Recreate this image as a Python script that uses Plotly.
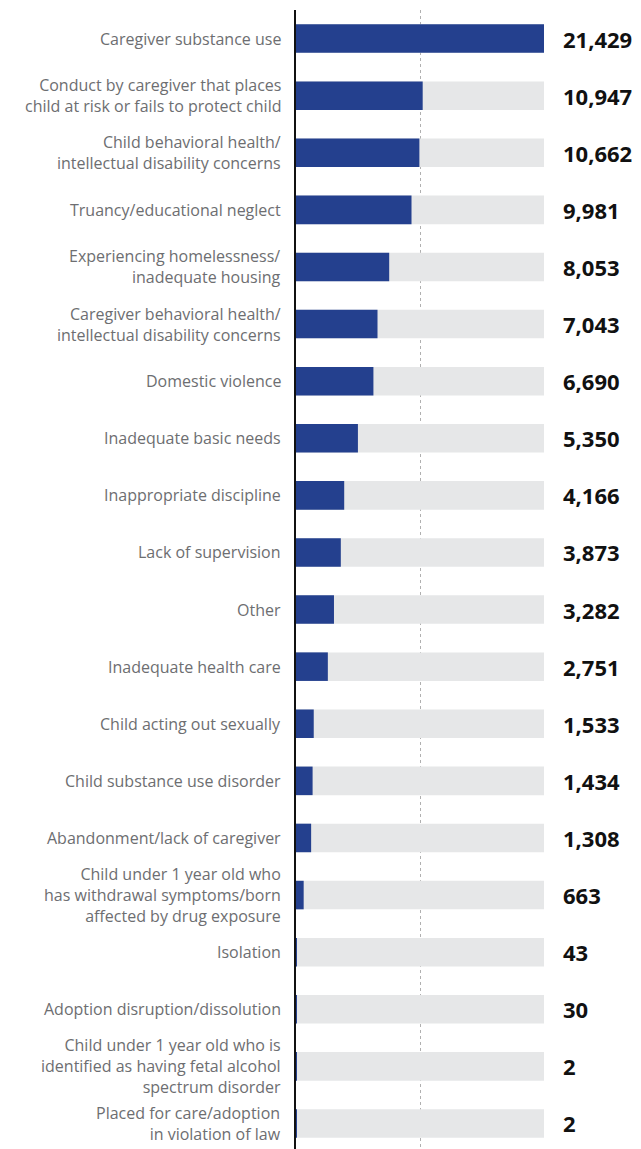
import plotly.graph_objects as go

categories = [
    "Caregiver substance use",
    "Conduct by caregiver that places<br>child at risk or fails to protect child",
    "Child behavioral health/<br>intellectual disability concerns",
    "Truancy/educational neglect",
    "Experiencing homelessness/<br>inadequate housing",
    "Caregiver behavioral health/<br>intellectual disability concerns",
    "Domestic violence",
    "Inadequate basic needs",
    "Inappropriate discipline",
    "Lack of supervision",
    "Other",
    "Inadequate health care",
    "Child acting out sexually",
    "Child substance use disorder",
    "Abandonment/lack of caregiver",
    "Child under 1 year old who<br>has withdrawal symptoms/born<br>affected by drug exposure",
    "Isolation",
    "Adoption disruption/dissolution",
    "Child under 1 year old who is<br>identified as having fetal alcohol<br>spectrum disorder",
    "Placed for care/adoption<br>in violation of law",
]
values = [21429, 10947, 10662, 9981, 8053, 7043, 6690, 5350, 4166, 3873,
          3282, 2751, 1533, 1434, 1308, 663, 43, 30, 2, 2]

vmax = max(values)
ids = list(range(len(categories)))

fig = go.Figure()
fig.add_trace(go.Bar(
    y=ids, x=[vmax] * len(values), orientation="h",
    marker=dict(color="#e6e7e8", line=dict(width=0)),
    hoverinfo="skip", showlegend=False,
))
fig.add_trace(go.Bar(
    y=ids, x=values, orientation="h",
    marker=dict(color="#24408e", line=dict(width=0)),
    showlegend=False,
))

for i, (cat, v) in enumerate(zip(categories, values)):
    fig.add_annotation(
        x=0, xref="paper", y=i, yref="y",
        text=cat, showarrow=False, align="right",
        xanchor="right", yanchor="middle", xshift=-13,
        font=dict(family="Open Sans, sans-serif", size=16, color="#6d6e71"),
    )
    fig.add_annotation(
        x=1, xref="paper", y=i, yref="y",
        text=f"<b>{v:,}</b>", showarrow=False,
        xanchor="left", xshift=17,
        font=dict(family="Open Sans, Roboto, sans-serif", size=22, color="#111111"),
    )

fig.update_layout(
    width=633, height=1144,
    margin=dict(l=288, r=97, t=2, b=0, autoexpand=False),
    paper_bgcolor="white", plot_bgcolor="white",
    barmode="overlay", bargap=0.5,
)
fig.update_xaxes(
    range=[0, vmax], tickvals=[vmax / 2, vmax], showticklabels=False,
    showgrid=True, gridcolor="#b0b0b0", griddash="dot", gridwidth=1,
    zeroline=False, showline=False, fixedrange=True, automargin=False,
)
fig.update_yaxes(
    tickvals=ids, showticklabels=False, autorange="reversed",
    showgrid=False, zeroline=False,
    showline=True, linecolor="#111111", linewidth=2,
    ticks="", automargin=False,
)

fig.write_html("out.html")
